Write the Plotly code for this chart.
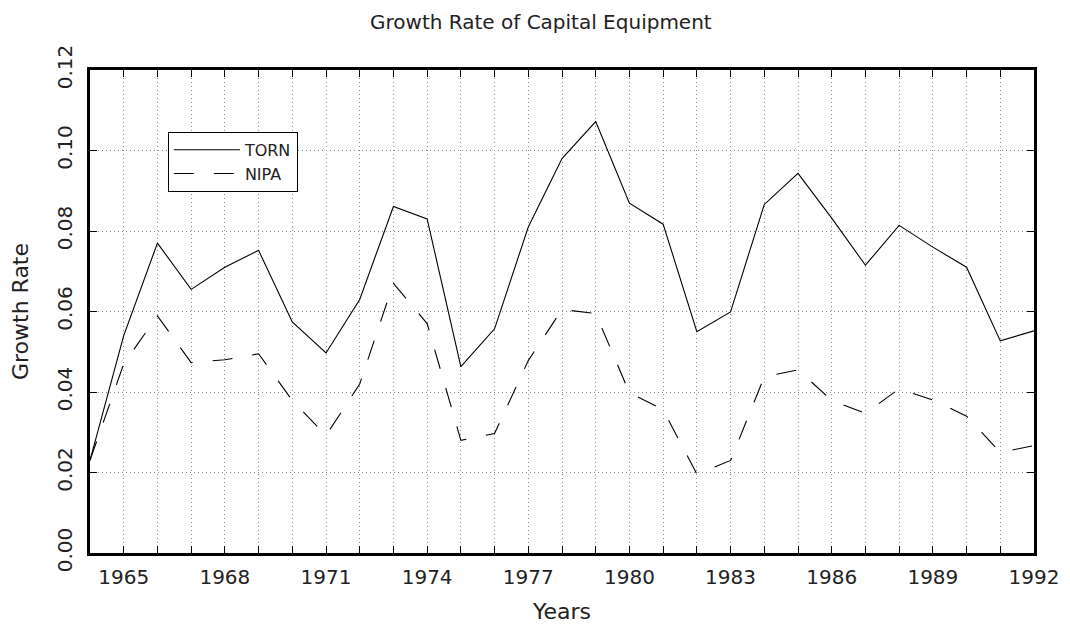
import plotly.graph_objects as go

years = list(range(1964, 1993))
torn = [0.023, 0.054, 0.077, 0.0655, 0.071, 0.0752, 0.0574, 0.0497, 0.063, 0.0861, 0.083,
        0.0463, 0.0557, 0.081, 0.098, 0.1072, 0.0869, 0.0817, 0.055, 0.0599, 0.0866,
        0.0943, 0.0832, 0.0715, 0.0814, 0.076, 0.071, 0.0527, 0.0552]
nipa = [0.023, 0.047, 0.0589, 0.0473, 0.048, 0.0495, 0.0379, 0.0292, 0.042, 0.067, 0.057,
        0.028, 0.0297, 0.0478, 0.0605, 0.0595, 0.0398, 0.0356, 0.0196, 0.023, 0.0438,
        0.0455, 0.0379, 0.0347, 0.0408, 0.038, 0.034, 0.025, 0.0267]
x_labels = [str(y) if (y - 1965) % 3 == 0 else "" for y in years]
y_ticks = [0.0, 0.02, 0.04, 0.06, 0.08, 0.10, 0.12]
y_labels = ["0.00", "0.02", "0.04", "0.06", "0.08", "0.10", "0.12"]

FONT = "DejaVu Sans"
TXT = "#222222"

fig = go.Figure()
fig.add_trace(go.Scatter(x=years, y=torn, mode="lines", name="TORN",
                         line=dict(color="black", width=1.1)))
fig.add_trace(go.Scatter(x=years, y=nipa, mode="lines", name="NIPA",
                         line=dict(color="black", width=1.1, dash="20px,20px")))

axis_common = dict(
    showline=True, linecolor="black", linewidth=2.5, mirror="ticks",
    ticks="inside", tickcolor="black", ticklen=7, tickwidth=1,
    showgrid=True, gridcolor="#8a8a8a", griddash="1px,3px", gridwidth=1,
    zeroline=False, automargin=False,
    tickfont=dict(family=FONT, size=20, color=TXT),
)

fig.update_layout(
    width=1070, height=625,
    margin=dict(l=82, r=44, t=62, b=80),
    paper_bgcolor="white", plot_bgcolor="white",
    title=dict(text="Growth Rate of Capital Equipment", x=0.498, xanchor="center",
               y=0.977, yanchor="middle",
               font=dict(family=FONT, size=20, color=TXT)),
    xaxis=dict(range=[1964, 1992], tickvals=years, ticktext=x_labels,
               ticklabelstandoff=4,
               title=dict(text="Years", font=dict(family=FONT, size=22, color=TXT),
                          standoff=16),
               **axis_common),
    yaxis=dict(range=[0, 0.12], tickvals=y_ticks, ticktext=y_labels, tickangle=-90,
               ticklabelstandoff=7,
               title=dict(text="Growth Rate", font=dict(family=FONT, size=22, color=TXT),
                          standoff=26),
               **axis_common),
    legend=dict(x=0.0825, y=0.872, xanchor="left", yanchor="top",
                bordercolor="black", borderwidth=1, bgcolor="white",
                font=dict(family=FONT, size=16, color=TXT),
                itemwidth=66, tracegroupgap=0),
    showlegend=True,
)

fig.write_html("out.html")
